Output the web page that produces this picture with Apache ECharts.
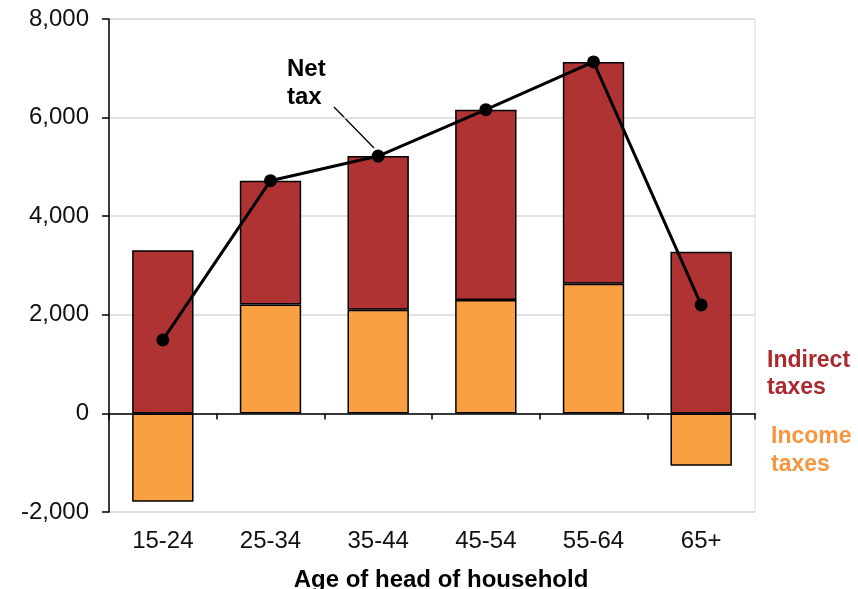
<!DOCTYPE html>
<html><head><meta charset="utf-8">
<script src="https://cdn.jsdelivr.net/npm/echarts@6/dist/echarts.min.js"></script>
<style>html,body{margin:0;padding:0;background:#fff;overflow:hidden}#c{width:858px;height:589px}</style>
</head><body><div id="c"></div>
<script>
const categories = ['15-24','25-34','35-44','45-54','55-64','65+'];
const incomeTaxes = [-1790, 2210, 2100, 2300, 2630, -1060];
const indirectTaxes = [3310, 2510, 3120, 3860, 4500, 3280];
const netTax = [1490, 4720, 5220, 6160, 7130, 2200];
const yTicks = [-2000, 0, 2000, 4000, 6000, 8000];

const chart = echarts.init(document.getElementById('c'));
const fam = 'Liberation Sans, Arial, sans-serif';
chart.setOption({
  animation: false,
  grid: {left: 109, right: 103, top: 19, bottom: 77, outerBoundsMode: 'none', containLabel: false,
    show: true, borderColor: '#d9d9d9', borderWidth: 1},
  xAxis: [{
    type: 'category', data: categories, position: 'bottom',
    axisLine: {onZero: true, lineStyle: {color: '#000', width: 1.5}},
    axisTick: {show: true, inside: false, length: 6, lineStyle: {color: '#000', width: 1.5}},
    axisLabel: {show: false}
  }, {
    type: 'category', data: categories, position: 'bottom',
    axisLine: {show: false}, axisTick: {show: false},
    axisLabel: {fontFamily: fam, fontSize: 24, color: '#111', margin: 17},
    name: 'Age of head of household', nameLocation: 'middle', nameGap: 56,
    nameTextStyle: {fontFamily: fam, fontSize: 24, fontWeight: 'bold', color: '#000', padding: [0, 0, 0, 18]}
  }],
  yAxis: {
    type: 'value', min: yTicks[0], max: yTicks[yTicks.length-1], interval: 2000,
    axisLine: {show: true, lineStyle: {color: '#000', width: 1.5}},
    axisTick: {show: true, length: 7, lineStyle: {color: '#000', width: 1.5}},
    axisLabel: {fontFamily: fam, fontSize: 24, color: '#111', margin: 20,
      formatter: v => v.toLocaleString('en-US')},
    splitLine: {lineStyle: {color: '#d9d9d9', width: 1.5}}
  },
  series: [{
    name: 'Income taxes', type: 'bar', stack: 't', data: incomeTaxes, barWidth: '57%',
    itemStyle: {color: '#F9A043', borderColor: '#000', borderWidth: 1.5}
  }, {
    name: 'Indirect taxes', type: 'bar', stack: 't', data: indirectTaxes,
    itemStyle: {color: '#AF3333', borderColor: '#000', borderWidth: 1.5}
  }, {
    name: 'Net tax', type: 'line', data: netTax, symbol: 'circle', symbolSize: 13,
    lineStyle: {color: '#000', width: 3}, itemStyle: {color: '#000'}, z: 5
  }],
  graphic: [
    {type: 'text', left: 287, top: 55, style: {text: 'Net\ntax', font: 'bold 24px Liberation Sans, Arial, sans-serif', fill: '#000', lineHeight: 28, align: 'left'}},
    {type: 'line', shape: {x1: 334, y1: 107, x2: 374, y2: 148}, style: {stroke: '#000', lineWidth: 1.3}},
    {type: 'text', left: 767, top: 347, style: {text: 'Indirect\ntaxes', font: 'bold 23px Liberation Sans, Arial, sans-serif', fill: '#A82A2E', lineHeight: 27}},
    {type: 'text', left: 771, top: 423, style: {text: 'Income\ntaxes', font: 'bold 23px Liberation Sans, Arial, sans-serif', fill: '#F7963E', lineHeight: 28}}
  ]
});
</script></body></html>
